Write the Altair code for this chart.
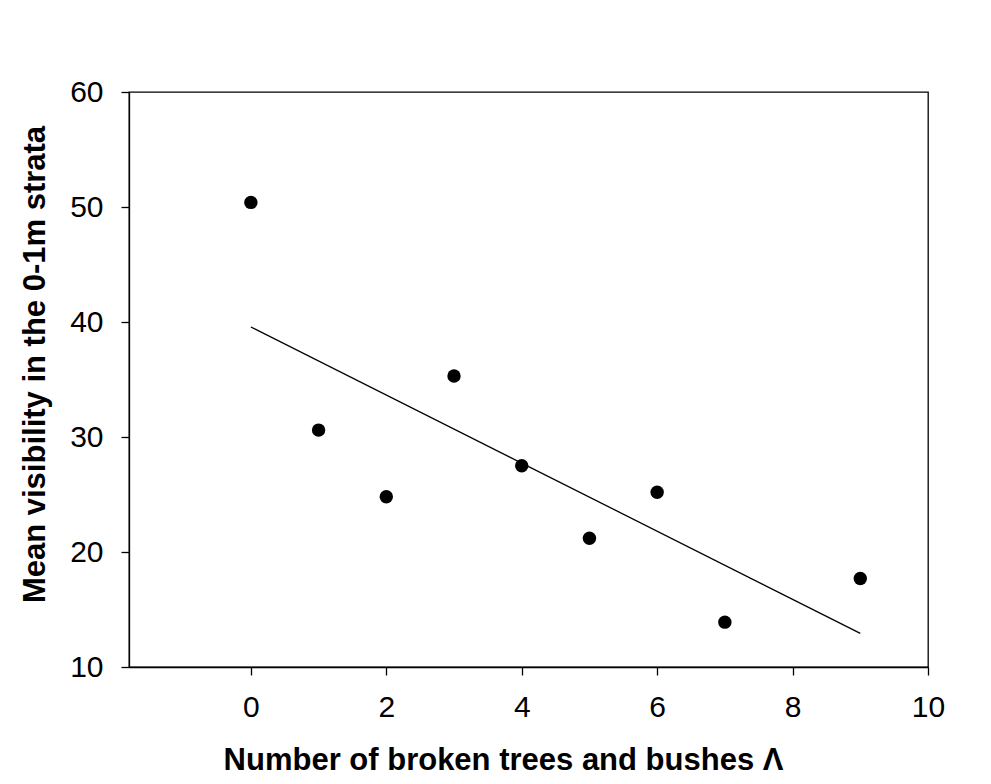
import altair as alt
import pandas as pd

# Data
broken = [0, 1, 2, 3, 4, 5, 6, 7, 9]
visibility = [50.4, 30.6, 24.8, 35.3, 27.5, 21.2, 25.2, 13.9, 17.7]
x_ticks = [0, 2, 4, 6, 8, 10]
y_ticks = [10, 20, 30, 40, 50, 60]

df = pd.DataFrame({"broken": broken, "visibility": visibility})

FONT = "Liberation Sans"

x_enc = alt.X(
    "broken:Q",
    scale=alt.Scale(domain=[-1.8, 10], nice=False, zero=False),
    axis=alt.Axis(
        title="Number of broken trees and bushes Λ",
        values=x_ticks,
        format="d",
        grid=False,
        tickSize=8,
        labelFlush=False,
        labelPadding=17,
        titlePadding=23,
        titleX=374,
        titleAlign="center",
    ),
)
y_enc = alt.Y(
    "visibility:Q",
    scale=alt.Scale(domain=[10, 60], nice=False, zero=False),
    axis=alt.Axis(
        title="Mean visibility in the 0-1m strata",
        values=y_ticks,
        format="d",
        grid=False,
        tickSize=8,
        labelFlush=False,
        labelPadding=18,
        titlePadding=18,
        titleY=272,
        titleAlign="center",
    ),
)

points = alt.Chart(df).mark_circle(size=180, color="black", opacity=1).encode(
    x=x_enc, y=y_enc
)

fit = (
    alt.Chart(df)
    .transform_regression("broken", "visibility")
    .mark_line(color="black", strokeWidth=1.3)
    .encode(x="broken:Q", y="visibility:Q")
)

chart = (
    alt.layer(fit, points)
    .properties(
        width=799,
        height=575,
        autosize=alt.AutoSizeParams(type="none"),
        padding={"left": 121, "top": 84, "right": 54, "bottom": 109},
        background="white",
    )
    .configure_view(stroke="black", strokeWidth=1.3)
    .configure_axis(
        domainColor="black",
        domainWidth=1.3,
        tickColor="black",
        tickWidth=1.3,
        labelFont=FONT,
        labelFontSize=30,
        labelColor="black",
        titleFont=FONT,
        titleFontSize=31,
        titleFontWeight="bold",
        titleColor="black",
    )
)

chart.save("out.html", embed_options={"renderer": "svg", "actions": False})
